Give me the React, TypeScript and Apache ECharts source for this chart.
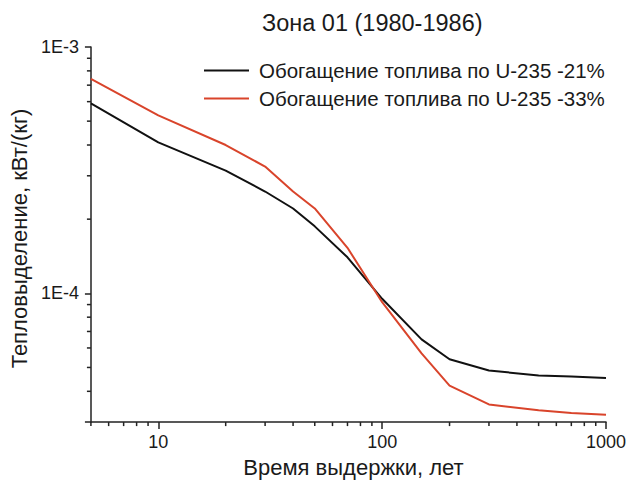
import React, { useEffect, useRef } from "react";
import * as echarts from "echarts";

const TITLE = "Зона 01 (1980-1986)";
const SERIES_NAMES = [
  "Обогащение топлива по U-235 -21%",
  "Обогащение топлива по U-235 -33%",
];
const X_NAME = "Время выдержки, лет";
const Y_NAME = "Тепловыделение, кВт/(кг)";

const times = [5, 10, 20, 30, 40, 50, 70, 100, 150, 200, 300, 500, 700, 1000];
const heat21 = [
  5.9e-4, 4.1e-4, 3.15e-4, 2.59e-4, 2.21e-4, 1.87e-4, 1.4e-4, 9.5e-5, 6.5e-5,
  5.4e-5, 4.86e-5, 4.64e-5, 4.59e-5, 4.53e-5,
];
const heat33 = [
  7.42e-4, 5.28e-4, 4.0e-4, 3.27e-4, 2.59e-4, 2.21e-4, 1.53e-4, 9.2e-5, 5.7e-5,
  4.22e-5, 3.54e-5, 3.35e-5, 3.27e-5, 3.21e-5,
];

const X_MIN = 5;
const X_MAX = 1000;
const Y_MIN = 3e-5;
const Y_MAX = 1e-3;
const xMinorTicks = [5, 6, 7, 8, 9, 20, 30, 40, 50, 60, 70, 80, 90, 200, 300, 400, 500, 600, 700, 800, 900];
const yMinorTicks = [4e-5, 5e-5, 6e-5, 7e-5, 8e-5, 9e-5, 2e-4, 3e-4, 4e-4, 5e-4, 6e-4, 7e-4, 8e-4, 9e-4];

const FONT = "Liberation Sans, Arial, sans-serif";
const AXIS_COLOR = "#222";
const TEXT_COLOR = "#1a1a1a";
const BLACK = "#111";
const RED = "#d9442b";

const isDecade = (v: number) => {
  const e = Math.log10(v);
  return Math.abs(e - Math.round(e)) < 1e-6;
};

export default function App() {
  const ref = useRef<HTMLDivElement>(null);
  useEffect(() => {
    if (!ref.current) return;
    const chart = echarts.init(ref.current, null, { renderer: "svg" });
    chart.setOption({
      animation: false,
      backgroundColor: "#fff",
      textStyle: { fontFamily: FONT },
      title: {
        text: TITLE,
        left: 262,
        top: 11,
        padding: 0,
        textStyle: { fontSize: 23.5, fontWeight: "normal", color: TEXT_COLOR, fontFamily: FONT },
      },
      legend: {
        data: SERIES_NAMES,
        orient: "vertical",
        left: 204,
        top: 60,
        padding: 0,
        icon: "rect",
        itemWidth: 45,
        itemHeight: 2,
        itemGap: 7,
        textStyle: {
          fontSize: 20.5,
          lineHeight: 20,
          color: TEXT_COLOR,
          fontFamily: FONT,
          padding: [0, 0, 0, 5],
        },
      },
      grid: { left: 90, right: 24, top: 47, bottom: 57 },
      xAxis: {
        type: "log",
        logBase: 10,
        min: X_MIN,
        max: X_MAX,
        name: X_NAME,
        nameLocation: "middle",
        nameGap: 31,
        nameTextStyle: { fontSize: 22, color: TEXT_COLOR, fontFamily: FONT, padding: [0, 0, 0, 10] },
        axisLine: { lineStyle: { color: AXIS_COLOR, width: 1.5 } },
        axisTick: { length: 7, lineStyle: { color: AXIS_COLOR, width: 1.5 } },
        axisLabel: {
          margin: 11,
          fontSize: 18,
          color: TEXT_COLOR,
          fontFamily: FONT,
          showMinLabel: false,
          formatter: (v: number) => (isDecade(v) ? String(Math.round(v)) : ""),
        },
        splitLine: { show: false },
      },
      yAxis: {
        type: "log",
        logBase: 10,
        min: Y_MIN,
        max: Y_MAX,
        name: Y_NAME,
        nameLocation: "middle",
        nameGap: 57,
        nameTextStyle: { fontSize: 22, color: TEXT_COLOR, fontFamily: FONT, padding: [0, 8, 0, 0] },
        axisLine: { lineStyle: { color: AXIS_COLOR, width: 1.5 } },
        axisTick: { length: 6, lineStyle: { color: AXIS_COLOR, width: 1.5 } },
        axisLabel: {
          margin: 12,
          fontSize: 18,
          color: TEXT_COLOR,
          fontFamily: FONT,
          formatter: (v: number) => (isDecade(v) ? "1E" + Math.round(Math.log10(v)) : ""),
        },
        splitLine: { show: false },
      },
      series: [
        {
          name: SERIES_NAMES[0],
          type: "line",
          data: times.map((t, i) => [t, heat21[i]]),
          symbol: "none",
          lineStyle: { color: BLACK, width: 2 },
          itemStyle: { color: BLACK },
        },
        {
          name: SERIES_NAMES[1],
          type: "line",
          data: times.map((t, i) => [t, heat33[i]]),
          symbol: "none",
          lineStyle: { color: RED, width: 2 },
          itemStyle: { color: RED },
        },
        {
          type: "custom",
          silent: true,
          clip: false,
          data: xMinorTicks.map((v) => [v, Y_MIN]),
          renderItem: (params: any, api: any) => {
            const p = api.coord([api.value(0), api.value(1)]);
            return {
              type: "line",
              shape: { x1: p[0], y1: p[1], x2: p[0], y2: p[1] + 4 },
              style: { stroke: AXIS_COLOR, lineWidth: 1.5 },
            };
          },
        },
        {
          type: "custom",
          silent: true,
          clip: false,
          data: yMinorTicks.map((v) => [X_MIN, v]),
          renderItem: (params: any, api: any) => {
            const p = api.coord([api.value(0), api.value(1)]);
            return {
              type: "line",
              shape: { x1: p[0] - 4, y1: p[1], x2: p[0], y2: p[1] },
              style: { stroke: AXIS_COLOR, lineWidth: 1.5 },
            };
          },
        },
      ],
    });
    return () => chart.dispose();
  }, []);
  return (
    <div
      ref={ref}
      style={{ position: "absolute", left: 0, top: 0, width: 630, height: 483, background: "#fff" }}
    />
  );
}
